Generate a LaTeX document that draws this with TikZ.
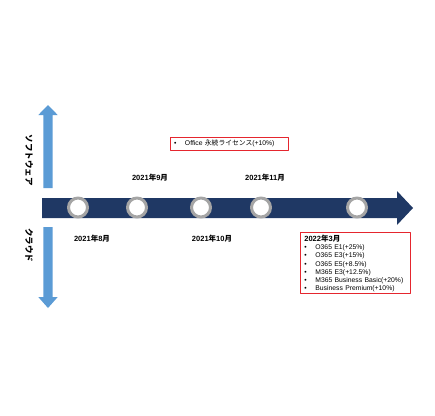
\documentclass[tikz,border=0pt]{standalone}
\usepackage{fontspec}
\setmainfont{Liberation Sans}
\newfontfamily\jp{Noto Sans CJK JP}
\definecolor{navy}{HTML}{1F3864}
\definecolor{sky}{HTML}{5B9BD5}
\definecolor{rbox}{HTML}{E5262E}
\definecolor{ringgray}{HTML}{A5A5A5}
\tikzset{
	datelbl/.style={font=\fontsize{7.5}{9}\selectfont\bfseries, inner sep=0pt},
	sidelbl/.style={font=\fontsize{8.5}{10}\selectfont\bfseries\jp, rotate=-90, inner sep=0pt},
	redbox/.style={draw=rbox, line width=0.8pt, align=left, inner xsep=4pt, inner ysep=0pt},
	ringc/.style={draw=ringgray, line width=3pt, fill=white}
}
\begin{document}
\begin{tikzpicture}[x=1pt, y=-1pt, line join=round]
	\def\ym#1#2{#1{\jp 年}#2{\jp 月}}
	\def\itm#1{\makebox[11pt][l]{•}#1}
	\useasboundingbox (0,0) rectangle (435,415);
	% pfeile links
	\fill[sky] (43.3,188)--(43.3,115)--(38.3,115)--(48,105)--(57.7,115)--(52.7,115)--(52.7,188)--cycle;
	\fill[sky] (43.3,227)--(43.3,297)--(38.3,297)--(48,308)--(57.7,297)--(52.7,297)--(52.7,227)--cycle;
	\node[sidelbl] (soft) at (29,160) {ソフトウェア};
	\node[sidelbl] (cloud) at (29,245) {クラウド};
	% zeitachse
	\fill[navy] (42,198)--(397,198)--(397,191)--(413,208)--(397,225)--(397,218)--(42,218)--cycle;
	\foreach \x in {78,137,201,261,357} \draw[ringc] (\x,207.5) circle (9.5pt);
	\node[datelbl] (sep) at (150,178) {\ym{2021}{9}};
	\node[datelbl] (nov) at (265,178) {\ym{2021}{11}};
	\node[datelbl] (aug) at (92,239) {\ym{2021}{8}};
	\node[datelbl] (oct) at (212,238.5) {\ym{2021}{10}};
	% kaesten
	\node[redbox, text width=110pt, minimum height=13pt, font=\fontsize{6.8}{8}\selectfont] (ofc) at (229,143.5)
		{\itm{Office {\jp 永続ライセンス}(+10\%)}};
	\node[redbox, anchor=north west, text width=102pt, minimum height=61pt, font=\fontsize{6.8}{8.1}\selectfont] (mar) at (300,232.3)
		{{\fontsize{7.5}{9}\selectfont\bfseries\ym{2022}{3}}\\[0.6pt]
		\itm{O365 E1(+25\%)}\\
		\itm{O365 E3(+15\%)}\\
		\itm{O365 E5(+8.5\%)}\\
		\itm{M365 E3(+12.5\%)}\\
		\itm{M365 Business Basic(+20\%)}\\
		\itm{Business Premium(+10\%)}};
\end{tikzpicture}
\end{document}
